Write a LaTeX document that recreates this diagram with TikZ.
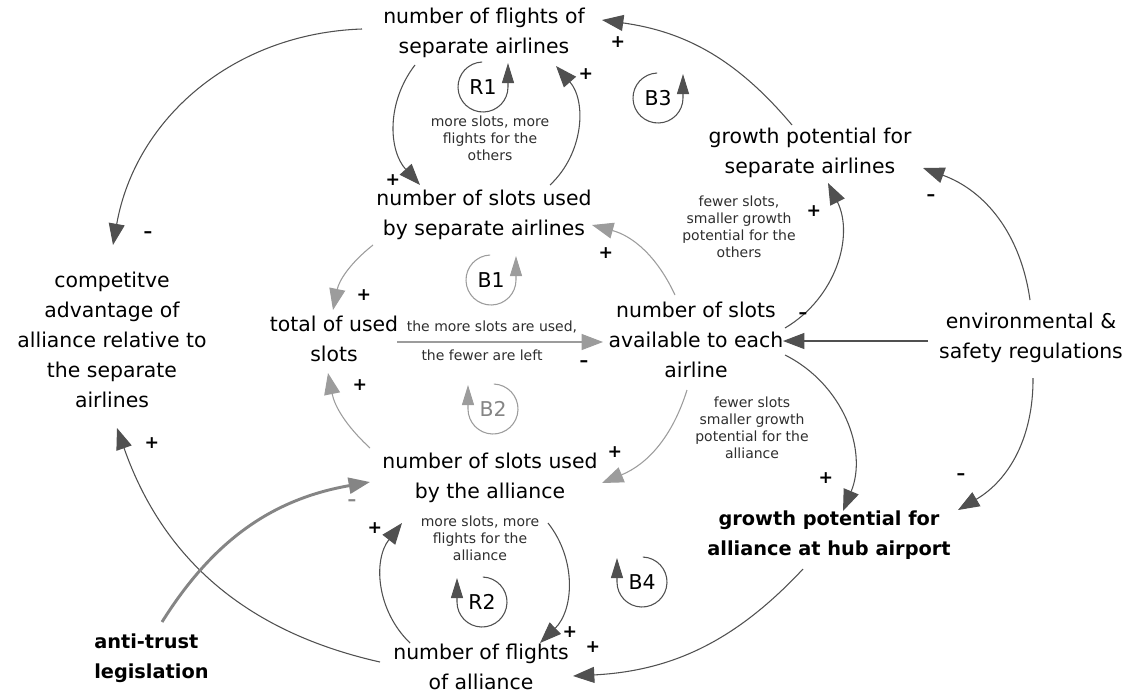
\documentclass[tikz,border=0pt]{standalone}
\usepackage{fontspec}
\setmainfont{DejaVu Sans}
\usetikzlibrary{arrows.meta}

\definecolor{linkdark}{HTML}{505050}
\definecolor{linkgray}{HTML}{9C9C9C}
\definecolor{policy}{HTML}{858585}
\definecolor{notegray}{HTML}{2E2E2E}

\tikzset{
  var/.style={align=center, inner sep=0pt, font=\fontsize{15.3}{22.5}\selectfont},
  keyvar/.style={inner sep=0pt, font=\fontsize{14.5}{22.5}\selectfont\bfseries},
  note/.style={align=center, inner sep=0pt, text=notegray, font=\fontsize{10.5}{12.8}\selectfont},
  pol/.style={inner sep=0pt, font=\fontsize{13}{14}\selectfont\bfseries},
  looplbl/.style={inner sep=0pt, font=\fontsize{15.3}{18}\selectfont},
  link/.style={draw=linkdark, line width=0.8pt, -{Triangle[length=16pt,width=12pt]}},
  graylink/.style={link, draw=linkgray},
  looparrow/.style={draw=linkdark, line width=0.8pt, -{Triangle[length=15pt,width=9pt]}},
  grayloop/.style={looparrow, draw=linkgray},
}

\begin{document}
\begin{tikzpicture}[x=0.75pt, y=0.75pt]
\useasboundingbox (0,0) rectangle (1131,-693);

% ---- variables ----
\node[var] (A) at (484,-33)  {number of flights of\\separate airlines};
\node[var] (B) at (484,-215) {number of slots used\\by separate airlines};
\node[var] (C) at (334,-339) {total of used\\slots};
\node[var] (D) at (696,-340) {number of slots\\available to each\\airline};
\node[var] (E) at (490,-478) {number of slots used\\by the alliance};
\node[var] (F) at (481,-667) {number of flights\\of alliance};
\node[var] (G) at (810,-153) {growth potential for\\separate airlines};
\node[var] (H) at (1031,-338) {environmental \&\\safety regulations};
\node[var] (J) at (112,-340) {competitve\\advantage of\\alliance relative to\\the separate\\airlines};
\node[keyvar, align=center] (I) at (829,-535) {growth potential for\\alliance at hub airport};
\node[keyvar, align=left, anchor=west] (K) at (94,-658) {anti-trust\\legislation};

% ---- explanatory notes ----
\node[note] (n1) at (490,-138) {more slots, more\\flights for the\\others};
\node[note] (n2) at (739,-227) {fewer slots,\\smaller growth\\potential for the\\others};
\node[note] (n3) at (492,-327) {the more slots are used,};
\node[note] (n4) at (482,-355) {the fewer are left};
\node[note] (n5) at (752,-428) {fewer slots\\smaller growth\\potential for the\\alliance};
\node[note] (n6) at (480,-538) {more slots, more\\flights for the\\alliance};

% ---- causal links ----
\draw[link] ([shift={(-122,4)}]A.center) to[bend right=39] ([shift={(1,95)}]J.center);
\draw[link] ([shift={(-69,-32)}]A.center) to[bend right=40] ([shift={(-64,30)}]B.center);
\draw[link] ([shift={(66,30)}]B.center) to[bend right=44] ([shift={(72,-33)}]A.center);
\draw[link] ([shift={(-18,28)}]G.center) to[bend right=21] ([shift={(118,13)}]A.center);
\draw[link] ([shift={(89,12)}]D.center) to[bend right=43] ([shift={(18,-30)}]G.center);
\draw[link] ([shift={(-1,38)}]H.center) to[bend right=31] ([shift={(113,-15)}]G.center);
\draw[link] ([shift={(-103,-3)}]H.center) -- ([shift={(87,-1)}]D.center);
\draw[link] ([shift={(2,-40)}]H.center) to[bend left=30] ([shift={(129,25)}]I.center);
\draw[link] ([shift={(89,-15)}]D.center) to[bend left=43] ([shift={(14,24)}]I.center);
\draw[link] ([shift={(-26,-34)}]I.center) to[bend left=22] ([shift={(92,-9)}]F.center);
\draw[link] ([shift={(58,-45)}]E.center) to[bend left=42] ([shift={(59,24)}]F.center);
\draw[link] ([shift={(-71,24)}]F.center) to[bend left=42] ([shift={(-88,-45)}]E.center);
\draw[link] ([shift={(-101,5)}]F.center) to[bend left=29] ([shift={(5,-88)}]J.center);
\draw[link, draw=policy, line width=2.2pt] ([shift={(68,36)}]K.west) to[bend left=24] ([shift={(-120,-4)}]E.center);

\draw[graylink] ([shift={(-111,-30)}]B.center) to[bend right=20] ([shift={(-1,29)}]C.center);
\draw[graylink] ([shift={(-120,30)}]E.center) to[bend left=18] ([shift={(-6,-34)}]C.center);
\draw[graylink] ([shift={(63,-3)}]C.center) -- ([shift={(-93,-2)}]D.center);
\draw[graylink] ([shift={(-21,45)}]D.center) to[bend right=25] ([shift={(108,-10)}]B.center);
\draw[graylink] ([shift={(-9,-50)}]D.center) to[bend left=25] ([shift={(112,-5)}]E.center);

% ---- link polarities ----
\node[pol] (p1)  at (148,-235) {--};
\node[pol] (p2)  at (393,-180) {+};
\node[pol] (p3)  at (586,-74)  {+};
\node[pol] (p4)  at (618,-42)  {+};
\node[pol] (p5)  at (814,-211) {+};
\node[pol] (p6)  at (931,-198) {--};
\node[pol] (p7)  at (803,-316) {--};
\node[pol] (p8)  at (961,-477) {--};
\node[pol] (p9)  at (826,-478) {+};
\node[pol] (p10) at (593,-647) {+};
\node[pol] (p11) at (570,-632) {+};
\node[pol] (p12) at (375,-528) {+};
\node[pol] (p13) at (152,-443) {+};
\node[pol, text=policy] (p14) at (352,-503) {--};
\node[pol] (p15) at (364,-295) {+};
\node[pol] (p16) at (360,-385) {+};
\node[pol] (p17) at (584,-364) {--};
\node[pol] (p18) at (606,-253) {+};
\node[pol] (p19) at (615,-452) {+};

% ---- loop identifiers ----
\node[looplbl] (R1) at (483,-87)  {R1};
\node[looplbl] (B3) at (658,-98)  {B3};
\node[looplbl] (B1) at (491,-280) {B1};
\node[looplbl, text=linkgray!85!black] (B2) at (493,-409) {B2};
\node[looplbl] (R2) at (482,-602) {R2};
\node[looplbl] (B4) at (642,-582) {B4};

% counter-clockwise loops
\draw[looparrow] (R1.center) ++(92:25) arc[start angle=92, end angle=360, radius=25] -- ++(0,24);
\draw[looparrow] (B3.center) ++(92:25) arc[start angle=92, end angle=360, radius=25] -- ++(0,24);
\draw[grayloop]  (B1.center) ++(92:25) arc[start angle=92, end angle=360, radius=25] -- ++(0,24);
% clockwise loops
\draw[grayloop]  (B2.center) ++(88:25) arc[start angle=88, end angle=-180, radius=25] -- ++(0,24);
\draw[looparrow] (R2.center) ++(88:25) arc[start angle=88, end angle=-180, radius=25] -- ++(0,24);
\draw[looparrow] (B4.center) ++(88:25) arc[start angle=88, end angle=-180, radius=25] -- ++(0,24);
\end{tikzpicture}
\end{document}
